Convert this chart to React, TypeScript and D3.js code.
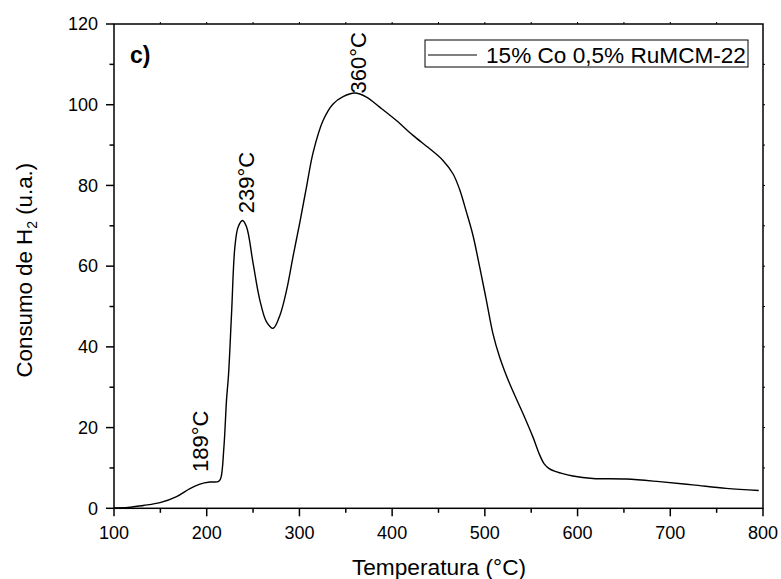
import { useRef, useEffect } from "react";
import * as d3 from "d3";

// curve: temperature (°C) and H2 consumption (u.a.)
const temps = [100, 115, 131.6, 149.6, 167.5, 181.9, 192.7, 203.4, 212.4, 215, 218.5, 221.4, 223.5, 226.8, 230.4, 233.9, 238.6, 243, 250.1, 257.3, 264.5, 271.7, 278.9, 286.1, 293.2, 300.4, 307.6, 314.8, 325.5, 336.3, 347.1, 359.7, 372.3, 386.6, 404.6, 422.5, 440.5, 454.8, 465.6, 472.8, 480, 487.2, 494.4, 501.6, 508.7, 515.9, 526.7, 541.1, 551.8, 559, 564, 569, 575, 582, 594.9, 616.5, 652.5, 688.4, 724.3, 760.2, 795.4];
const consumo = [0.1, 0.2, 0.7, 1.4, 2.9, 4.9, 6.0, 6.5, 6.6, 7.3, 15, 27, 33, 48.3, 64.8, 69.7, 71.3, 69.7, 60.6, 51.6, 46.2, 44.6, 47.8, 54, 62.5, 70.8, 79.6, 88.2, 96.1, 100.2, 102, 102.9, 101.9, 99.4, 96.1, 92.4, 89.1, 86.2, 82.9, 79, 73.5, 67.6, 59.8, 51.6, 43.3, 37.5, 30.9, 23.5, 17.7, 13.3, 11.0, 9.9, 9.2, 8.7, 8.0, 7.4, 7.25, 6.6, 5.8, 4.95, 4.4];

const xTicks = [100, 200, 300, 400, 500, 600, 700, 800];
const yTicks = [0, 20, 40, 60, 80, 100, 120];

// peak labels: temperature and the value where the label starts
const peakTemps = [189, 239, 360];
const peakLabelAt = [9, 73.1, 102.8];

const seriesName = "15% Co 0,5% RuMCM-22";

export default function App() {
    const svgRef = useRef(null);

    const width = 781;
    const height = 579;
    const font = "'Liberation Sans', Arial, sans-serif";

    useEffect(() => {
        const x = d3.scaleLinear().domain([100, 800]).range([114, 763]);
        const y = d3.scaleLinear().domain([0, 120]).range([508.3, 24]);

        const svg = d3.select(svgRef.current).html(null);
        const g = svg.append("g").style("font-family", font);

        // frame
        g.append("rect")
            .attr("x", x(100)).attr("y", y(120))
            .attr("width", x(800) - x(100)).attr("height", y(0) - y(120))
            .attr("fill", "none").attr("stroke", "black").attr("stroke-width", 1.5);

        // bottom axis
        const xMinor = d3.range(150, 800, 100);
        xTicks.forEach(t => {
            g.append("line").attr("x1", x(t)).attr("x2", x(t)).attr("y1", y(0)).attr("y2", y(0) + 8)
                .attr("stroke", "black").attr("stroke-width", 1.5);
            g.append("text").attr("x", x(t)).attr("y", 539).attr("text-anchor", "middle")
                .attr("font-size", 18).text(t);
        });
        xMinor.forEach(t => {
            g.append("line").attr("x1", x(t)).attr("x2", x(t)).attr("y1", y(0)).attr("y2", y(0) + 4.5)
                .attr("stroke", "black").attr("stroke-width", 1.5);
        });
        // top axis small ticks
        d3.range(150, 800, 50).forEach(t => {
            g.append("line").attr("x1", x(t)).attr("x2", x(t)).attr("y1", y(120)).attr("y2", y(120) - 2)
                .attr("stroke", "black").attr("stroke-width", 1);
        });

        // left axis
        yTicks.forEach(t => {
            g.append("line").attr("x1", x(100) - 8).attr("x2", x(100)).attr("y1", y(t)).attr("y2", y(t))
                .attr("stroke", "black").attr("stroke-width", 1.5);
            g.append("text").attr("x", 98).attr("y", y(t)).attr("dy", "0.35em").attr("text-anchor", "end")
                .attr("font-size", 18).text(t);
        });
        d3.range(10, 120, 20).forEach(t => {
            g.append("line").attr("x1", x(100) - 4.5).attr("x2", x(100)).attr("y1", y(t)).attr("y2", y(t))
                .attr("stroke", "black").attr("stroke-width", 1.5);
        });
        // right axis small ticks
        d3.range(10, 120, 10).forEach(t => {
            g.append("line").attr("x1", x(800)).attr("x2", x(800) + 2).attr("y1", y(t)).attr("y2", y(t))
                .attr("stroke", "black").attr("stroke-width", 1);
        });

        // axis titles
        g.append("text").attr("x", (x(100) + x(800)) / 2 + 0.5).attr("y", 575)
            .attr("text-anchor", "middle").attr("font-size", 22.7).text("Temperatura (°C)");

        const yt = g.append("text")
            .attr("transform", `translate(32,${(y(0) + y(120)) / 2 + 4}) rotate(-90)`)
            .attr("text-anchor", "middle").attr("font-size", 22.3);
        yt.append("tspan").text("Consumo de H");
        yt.append("tspan").attr("font-size", 14).attr("dy", 5).text("2");
        yt.append("tspan").attr("dy", -5).text(" (u.a.)");

        // curve
        const pts = temps.map((t, i) => [t, consumo[i]]);
        const line = d3.line()
            .x(d => x(d[0]))
            .y(d => y(d[1]))
            .curve(d3.curveCatmullRom.alpha(0.5));
        g.append("path").attr("d", line(pts))
            .attr("fill", "none").attr("stroke", "black").attr("stroke-width", 1.4)
            .attr("stroke-linejoin", "round");

        // peak labels
        peakTemps.forEach((t, i) => {
            g.append("text")
                .attr("transform", `translate(${x(t) + 11},${y(peakLabelAt[i])}) rotate(-90)`)
                .attr("font-size", 22).text(`${t}°C`);
        });

        // panel letter
        g.append("text").attr("x", 130).attr("y", 63).attr("font-size", 23).attr("font-weight", "bold").text("c)");

        // legend
        g.append("rect").attr("x", 425).attr("y", 40).attr("width", 323).attr("height", 27)
            .attr("fill", "white").attr("stroke", "black").attr("stroke-width", 1);
        g.append("line").attr("x1", 428).attr("x2", 477).attr("y1", 55).attr("y2", 55)
            .attr("stroke", "black").attr("stroke-width", 1.2);
        g.append("text").attr("x", 486).attr("y", 63).attr("font-size", 22.6).text(seriesName);
    }, []);

    return <svg ref={svgRef} width={width} height={height}
        style={{ position: "absolute", left: 0, top: 0, background: "white" }}></svg>;
}
